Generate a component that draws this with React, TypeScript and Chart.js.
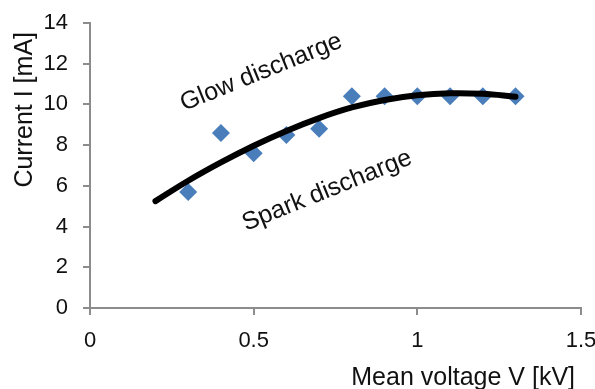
import React, { useEffect, useRef } from "react";
import { Chart, registerables } from "chart.js";

Chart.register(...registerables);

const voltage = [0.3, 0.4, 0.5, 0.6, 0.7, 0.8, 0.9, 1.0, 1.1, 1.2, 1.3];
const current = [5.7, 8.6, 7.6, 8.5, 8.8, 10.4, 10.4, 10.4, 10.4, 10.4, 10.4];

const trendVoltage = [0.2, 0.3, 0.4, 0.5, 0.6, 0.7, 0.8, 0.9, 1.0, 1.1, 1.2, 1.3];
const trendCurrent = [5.25, 6.25, 7.15, 7.97, 8.7, 9.33, 9.85, 10.22, 10.45, 10.55, 10.52, 10.38];

const xTicks = [0, 0.5, 1, 1.5];
const yTicks = [0, 2, 4, 6, 8, 10, 12, 14];

const xTitle = "Mean voltage V [kV]";
const yTitle = "Current I [mA]";
const glowLabel = "Glow discharge";
const sparkLabel = "Spark discharge";

const FONT = "'Liberation Sans', Arial, sans-serif";

export default function App() {
  const ref = useRef<HTMLCanvasElement | null>(null);

  useEffect(() => {
    if (!ref.current) return;
    const textPlugin = {
      id: "texts",
      afterDraw(chart: any) {
        const ctx = chart.ctx;
        ctx.save();
        ctx.fillStyle = "#111";
        ctx.font = `25px ${FONT}`;
        ctx.textAlign = "right";
        ctx.textBaseline = "alphabetic";
        ctx.fillText(xTitle, 575, 385);
        ctx.save();
        ctx.translate(32, 32);
        ctx.rotate(-Math.PI / 2);
        ctx.textAlign = "right";
        ctx.fillText(yTitle, 0, 0);
        ctx.restore();
        ctx.font = `25px ${FONT}`;
        ctx.textAlign = "left";
        const ang = (-22 * Math.PI) / 180;
        ctx.save();
        ctx.translate(184, 111);
        ctx.rotate(ang);
        ctx.fillText(glowLabel, 0, 0);
        ctx.restore();
        ctx.save();
        ctx.translate(246, 231);
        ctx.rotate(ang);
        ctx.fillText(sparkLabel, 0, 0);
        ctx.restore();
        ctx.restore();
      },
    };

    const chart = new Chart(ref.current, {
      type: "scatter",
      data: {
        datasets: [
          {
            label: "trend",
            data: trendVoltage.map((x, i) => ({ x, y: trendCurrent[i] })),
            showLine: true,
            borderColor: "#000",
            borderWidth: 6,
            borderCapStyle: "round",
            pointRadius: 0,
            tension: 0.4,
            order: 0,
          } as any,
          {
            label: "data",
            data: voltage.map((x, i) => ({ x, y: current[i] })),
            pointStyle: "rectRot",
            pointRadius: 9,
            pointBackgroundColor: "#4a7ebb",
            pointBorderWidth: 0,
            borderColor: "#4a7ebb",
            showLine: false,
            order: 1,
          } as any,
        ],
      },
      options: {
        animation: false,
        responsive: false,
        layout: { padding: { top: 23, right: 14, left: 0, bottom: 0 } },
        plugins: { legend: { display: false }, tooltip: { enabled: false } },
        scales: {
          x: {
            type: "linear",
            min: 0,
            max: 1.5,
            afterBuildTicks: (s: any) => {
              s.ticks = xTicks.map((v) => ({ value: v }));
            },
            afterFit: (s: any) => {
              s.height = 81;
              s.paddingLeft = 0;
              s.paddingRight = 0;
            },
            grid: { drawOnChartArea: false, drawTicks: true, tickLength: 7, color: "#8c8c8c", lineWidth: 2 },
            border: { display: true, color: "#8c8c8c", width: 2 },
            ticks: {
              padding: 13,
              color: "#111",
              font: { family: FONT, size: 22 },
              callback: (v: any) => String(v),
            },
          },
          y: {
            type: "linear",
            min: 0,
            max: 14,
            afterBuildTicks: (s: any) => {
              s.ticks = yTicks.map((v) => ({ value: v }));
            },
            afterFit: (s: any) => {
              s.width = 90;
              s.paddingTop = 0;
              s.paddingBottom = 0;
            },
            grid: { drawOnChartArea: false, drawTicks: true, tickLength: 7, color: "#8c8c8c", lineWidth: 2 },
            border: { display: true, color: "#8c8c8c", width: 2 },
            ticks: {
              padding: 15,
              color: "#111",
              font: { family: FONT, size: 22 },
              callback: (v: any) => String(v),
            },
          },
        },
      },
      plugins: [textPlugin],
    } as any);
    return () => chart.destroy();
  }, []);

  return (
    <div style={{ position: "absolute", left: 0, top: 0, width: 595, height: 389, background: "#fff" }}>
      <canvas ref={ref} width={595} height={389} style={{ width: 595, height: 389, display: "block" }} />
    </div>
  );
}
